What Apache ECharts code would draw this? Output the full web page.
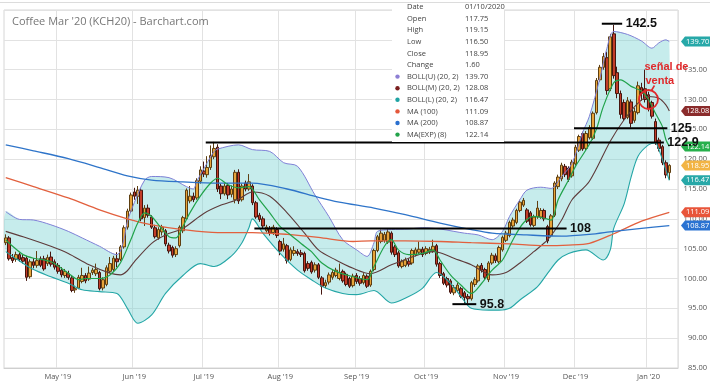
<!DOCTYPE html>
<html><head><meta charset="utf-8">
<script src="https://cdn.jsdelivr.net/npm/echarts@6/dist/echarts.min.js"></script>
<style>html,body{margin:0;padding:0;background:#fff}#c{width:710px;height:383px}</style>
</head><body><div id="c"></div>
<script>
// ---------- DATA ----------
const startDate = '2019-04-09';
const holidays = ['2019-04-19','2019-05-27','2019-07-04','2019-09-02','2019-11-28','2019-12-25','2020-01-01'];
const monthNames = ['Jan','Feb','Mar','Apr','May','Jun','Jul','Aug','Sep','Oct','Nov','Dec'];
const titleText = "Coffee Mar '20 (KCH20) - Barchart.com";
const priceMin = 85, priceMax = 145, priceStep = 5;

// [open, close, low, high] per trading day
const candles = [
[106.0,106.8,105.6,107.4],[106.8,103.3,103.0,107.1],[103.5,103.0,102.6,104.1],[103.2,104.0,102.8,104.5],[104.0,103.2,102.8,104.3],
[103.5,102.9,102.5,104.0],[103.4,100.2,99.6,103.8],[100.3,102.8,100.0,103.2],[102.8,102.2,101.7,103.4],[102.2,103.0,101.8,104.6],
[103.3,102.2,101.9,103.7],[103.3,101.6,101.3,103.8],[102.5,103.5,102.1,104.0],[103.6,102.4,102.0,104.5],[102.8,101.9,101.5,103.2],
[102.2,101.2,100.8,102.6],[101.4,100.6,100.2,101.9],[100.5,101.2,100.1,101.6],[100.8,100.2,99.8,101.3],[100.1,98.0,97.7,100.4],
[98.1,98.3,97.6,98.8],[98.4,100.2,98.2,100.6],[99.5,100.5,99.2,101.8],[100.5,99.6,99.2,100.9],[99.9,100.9,99.6,102.0],
[101.0,101.4,100.6,101.8],[100.8,101.5,100.4,102.5],[101.0,98.3,98.0,101.3],[98.4,99.8,98.0,100.2],[99.0,101.8,98.7,102.2],
[101.2,102.5,100.9,103.6],[101.5,103.4,101.2,103.8],[103.3,102.8,101.9,104.4],[103.2,105.3,102.9,105.6],[105.3,108.5,105.0,108.9],
[108.6,111.3,108.2,111.7],[111.3,114.0,111.0,114.4],[114.5,113.8,113.2,115.2],[113.8,114.8,112.5,115.5],[114.8,110.0,109.6,115.1],
[110.2,111.8,108.8,112.3],[111.8,110.6,110.2,112.4],[110.3,108.6,108.3,110.6],[108.5,107.0,106.7,109.0],[106.8,108.2,106.5,108.6],
[107.8,108.6,107.2,109.0],[108.0,105.8,105.4,108.3],[105.6,104.6,104.2,106.0],[105.2,103.9,103.5,105.5],[104.0,105.0,103.6,105.4],
[105.5,108.6,105.2,108.9],[108.0,110.2,107.6,110.5],[110.0,114.8,109.8,115.1],[113.0,113.8,112.6,115.5],[113.8,113.2,112.8,114.4],
[113.5,116.4,113.2,116.8],[116.3,118.2,115.9,118.8],[118.0,117.5,117.0,119.6],[117.4,118.6,116.9,120.5],[118.6,120.6,118.2,122.3],
[120.4,121.8,120.0,122.9],[122.0,115.0,114.5,122.5],[115.5,114.2,113.3,115.9],[114.2,115.5,113.9,116.0],[115.6,114.0,113.3,116.0],
[114.1,115.0,113.6,115.6],[113.2,117.8,112.6,118.2],[117.8,113.0,112.5,118.3],[113.2,115.5,112.9,115.9],[116.0,115.0,114.6,116.4],
[115.0,116.2,114.7,117.5],[115.5,112.7,112.3,115.8],[112.7,110.3,110.0,113.0],[110.6,109.9,109.5,111.0],[110.0,108.8,108.4,110.4],
[108.0,108.6,107.7,109.0],[108.4,107.6,107.2,108.8],[107.7,108.6,107.3,109.0],[108.2,107.2,106.8,108.6],[106.2,104.6,103.9,106.5],
[104.9,105.8,104.5,106.8],[105.5,103.0,102.5,105.8],[103.2,104.8,102.9,105.2],[104.2,104.7,103.8,105.4],[104.5,104.2,103.8,104.9],
[104.3,104.0,103.6,104.8],[104.2,101.3,101.0,104.5],[102.5,101.7,101.3,102.9],[102.7,101.1,100.8,103.0],[101.4,102.3,101.0,102.7],
[102.3,100.2,99.9,102.6],[100.1,98.7,97.3,100.4],[98.8,99.3,98.4,99.8],[99.4,100.6,99.0,101.0],[100.2,101.0,99.8,101.4],
[100.5,101.4,100.2,101.8],[100.0,101.0,99.7,102.5],[101.2,99.6,99.3,101.5],[100.7,99.0,98.7,101.0],[100.0,98.7,98.4,100.3],
[98.8,100.4,98.5,100.8],[100.5,99.5,99.1,100.9],[100.0,99.2,98.8,100.4],[99.3,100.5,99.0,100.9],[100.4,98.7,98.4,100.7],
[98.9,101.2,98.6,101.5],[101.5,104.7,101.2,105.0],[104.7,107.0,104.4,107.3],[106.2,107.6,105.9,108.2],[106.4,107.4,106.0,107.8],
[106.1,107.8,105.8,108.3],[107.6,104.4,104.0,107.9],[105.3,104.0,103.6,105.6],[104.3,102.1,101.8,104.6],[102.0,102.8,101.7,103.2],
[102.2,103.1,101.9,103.5],[102.9,102.4,102.0,103.3],[102.6,104.7,102.3,105.0],[104.0,104.8,103.7,105.2],[104.4,104.9,104.1,106.2],
[104.9,104.0,103.6,105.3],[104.2,105.0,103.9,105.4],[104.5,104.9,104.1,105.3],[104.6,105.4,104.3,106.5],[105.5,102.4,102.0,105.8],
[102.5,100.5,100.1,102.8],[100.8,99.2,98.9,101.1],[100.0,98.9,98.5,100.3],[99.6,97.7,97.4,99.9],[97.6,98.5,97.2,98.9],
[98.0,98.9,97.7,99.3],[98.3,97.0,96.7,98.6],[97.6,96.8,95.8,97.9],[97.0,96.6,95.8,97.4],[96.6,99.3,96.3,99.6],
[99.0,99.8,98.6,100.2],[99.6,102.1,99.3,102.4],[102.2,101.4,101.0,102.6],[101.5,100.2,99.8,101.8],[99.8,102.6,99.4,102.9],
[102.6,103.9,102.3,104.3],[103.8,103.0,102.6,104.2],[102.8,105.2,102.5,105.5],[104.8,106.9,104.5,107.2],[106.4,107.6,106.1,108.0],
[107.2,109.4,106.9,109.7],[108.8,109.8,108.5,110.2],[109.4,111.4,109.1,111.7],[111.4,112.8,111.1,113.2],[112.3,113.1,112.0,113.5],
[111.5,109.6,109.3,111.8],[111.0,109.0,108.7,111.3],[108.9,110.3,108.6,110.7],[110.3,111.8,110.0,113.0],[110.3,111.4,110.0,111.8],
[111.4,110.0,109.6,111.7],[108.7,106.3,105.9,109.0],[107.2,110.5,106.9,110.8],[110.6,116.0,110.3,116.3],[115.4,117.0,115.0,117.4],
[116.7,119.0,116.3,119.4],[118.8,117.4,117.0,119.2],[118.5,116.6,116.2,118.8],[117.2,119.5,116.9,119.9],[119.2,122.0,118.9,122.4],
[121.5,123.8,121.2,124.1],[124.3,121.7,121.4,124.6],[121.8,124.3,121.5,124.7],[123.6,125.3,123.3,125.7],[123.5,127.7,123.2,128.0],
[127.8,133.2,127.5,133.6],[133.3,135.4,133.0,135.8],[135.4,137.2,135.0,137.8],[137.0,131.5,130.8,138.0],[131.8,140.5,131.4,141.0],
[141.0,134.0,133.5,142.5],[134.5,131.0,130.2,135.5],[131.0,127.5,126.8,131.5],[129.5,126.8,126.4,130.0],[127.0,129.8,126.7,130.4],
[129.6,126.0,125.3,130.0],[126.5,128.0,126.1,128.6],[127.8,132.3,127.5,133.0],[132.0,131.0,129.8,132.8],[131.8,130.0,129.5,135.0],
[130.8,128.5,128.0,131.3],[129.5,127.2,126.8,129.8],[126.3,122.8,122.4,126.8],[123.2,121.8,121.3,123.6],[122.1,119.4,119.0,122.4],
[119.4,117.35,116.8,119.8],[117.75,118.95,116.5,119.15]
];

// indicator lines: [trading-day index, value]
const bollUpper = [[0,111.2],[4,109.9],[8,109.8],[13,109.0],[18,107.9],[22,106.8],[27,105.4],[32,104.0],[33,104.6],[34,106.5],[35,109.5],[37,112.7],[40,116.5],[42,117.1],[47,116.9],[52,115.4],[54,115.0],[55,116.3],[58,119.4],[60,121.3],[61,121.7],[67,122.4],[71,121.6],[76,121.3],[80,119.4],[84,118.8],[89,114.0],[93,110.4],[97,106.5],[101,104.8],[104,103.7],[106,106.0],[107,107.9],[111,108.2],[116,108.3],[120,108.5],[125,108.3],[129,107.9],[132,107.6],[136,107.3],[140,106.5],[143,107.9],[145,110.4],[148,113.2],[150,114.8],[154,115.3],[157,115.1],[160,117.1],[163,119.3],[166,124.4],[168,127.2],[171,133.5],[173,138.5],[175,141.4],[179,140.9],[183,139.8],[186,138.6],[188,139.5],[190,140.0],[191,139.70]];
const bollMiddle = [[0,107.9],[5,107.0],[13,105.4],[18,104.2],[24,102.3],[30,100.9],[33,100.6],[35,101.3],[37,102.8],[42,105.9],[46,107.3],[51,108.4],[57,110.9],[62,112.3],[67,113.3],[71,114.5],[76,113.8],[81,111.0],[86,107.6],[90,104.8],[95,103.1],[100,101.7],[105,100.8],[111,102.3],[116,103.4],[120,104.2],[123,104.5],[125,104.3],[129,103.4],[134,102.3],[140,100.6],[144,101.0],[148,102.6],[152,104.5],[156,106.5],[160,109.8],[163,113.2],[168,116.3],[174,123.0],[178,126.6],[182,129.4],[185,130.5],[188,130.2],[190,129.1],[191,128.08]];
const bollLower = [[0,104.5],[3,103.3],[8,101.5],[13,100.3],[18,99.2],[22,98.1],[27,97.8],[32,97.5],[35,95.0],[38,92.5],[42,93.9],[46,97.5],[51,100.5],[56,102.5],[60,102.0],[65,103.8],[68,106.0],[70,108.5],[71,110.0],[74,107.6],[79,104.2],[84,101.4],[88,99.8],[92,98.4],[97,97.5],[101,97.3],[106,98.0],[111,95.9],[116,97.0],[120,98.4],[124,101.0],[128,99.2],[131,97.0],[134,95.0],[139,94.7],[142,94.7],[145,95.0],[148,96.4],[153,98.6],[156,100.9],[159,103.1],[162,104.2],[167,104.8],[172,103.1],[174,104.8],[175,108.4],[178,112.5],[180,117.0],[182,120.5],[185,122.4],[187,122.7],[188,121.6],[190,118.2],[191,116.47]];
const ma100 = [[0,116.9],[8,115.4],[18,113.5],[27,111.5],[35,110.0],[42,109.0],[51,108.2],[61,107.7],[71,107.7],[81,107.4],[90,106.9],[100,106.2],[105,106.3],[115,106.3],[125,106.2],[134,106.0],[145,105.8],[155,105.5],[162,105.6],[168,105.9],[175,107.5],[183,109.6],[191,111.09]];
const ma200 = [[0,122.4],[8,121.4],[18,120.1],[27,118.6],[35,117.2],[42,116.5],[51,116.2],[61,116.0],[71,116.0],[81,115.0],[90,113.6],[96,112.8],[106,111.8],[115,110.7],[125,109.3],[134,108.2],[140,107.6],[150,107.3],[160,107.1],[168,107.4],[175,107.9],[183,108.4],[191,108.87]];
const emaLine = [[0,106.5],[2,105.4],[5,104.0],[8,103.4],[13,102.8],[18,100.9],[21,99.8],[23,100.0],[27,100.0],[30,100.6],[33,102.6],[36,106.5],[38,109.3],[40,111.0],[42,110.4],[44,109.0],[47,107.0],[49,106.8],[51,108.7],[53,111.0],[56,113.8],[59,116.0],[61,116.8],[64,115.7],[67,115.2],[70,115.4],[73,113.2],[76,111.0],[79,108.7],[82,107.3],[86,105.4],[88,104.5],[91,102.6],[95,101.2],[100,100.3],[104,99.8],[106,102.0],[109,105.4],[111,106.5],[113,104.8],[116,104.0],[120,104.2],[123,104.8],[125,103.1],[128,100.6],[131,98.9],[134,97.5],[137,99.2],[140,101.4],[143,103.1],[146,106.5],[149,109.3],[152,110.4],[155,110.1],[157,109.8],[159,113.2],[162,116.5],[164,118.8],[168,122.5],[170,125.0],[172,128.8],[175,132.8],[177,133.3],[180,132.2],[183,131.4],[185,130.0],[187,127.7],[189,125.5],[190,123.3],[191,122.14]];

// hand-drawn annotation levels
const annoLabels = ['142.5','125','122.9','108','95.8'];
const annoLevels = [142.7,125.2,122.8,108.4,95.7];
const annoStart  = [172,164,58,72,129];
const annoEnd    = [177,190,189,161,135];
const signalText = ['señal de','venta'];
const signalPoint = [185,130];

// ---------- BUILD ----------
function tradingDays(start, n, hol){
  const out=[]; const d=new Date(start+'T00:00:00Z');
  while(out.length<n){
    const wd=d.getUTCDay(); const s=d.toISOString().slice(0,10);
    if(wd!==0&&wd!==6&&hol.indexOf(s)<0) out.push(s);
    d.setUTCDate(d.getUTCDate()+1);
  }
  return out;
}
const categories = tradingDays(startDate, candles.length+2, holidays);
const isMonthStart = (idx)=> idx>0 && categories[idx].slice(5,7)!==categories[idx-1].slice(5,7);
const monthLabel = (v)=> monthNames[+v.slice(5,7)-1]+" '"+v.slice(2,4);

const lastV = a => a[a.length-1][1];
const last = candles[candles.length-1], prev = candles[candles.length-2];
const ld = categories[candles.length-1];
const dateTxt = ld.slice(5,7)+'/'+ld.slice(8,10)+'/'+ld.slice(0,4);

const C = {up:'#7f80d6', mid:'#5e3b3b', low:'#24a6a6', ma100:'#e2603e', ma200:'#2e74c9', ema:'#21a34b'};
const infoRows = [
  ['Date', dateTxt, null],
  ['Open', last[0].toFixed(2), null],
  ['High', last[3].toFixed(2), null],
  ['Low', last[2].toFixed(2), null],
  ['Close', last[1].toFixed(2), null],
  ['Change', (last[1]-prev[1]).toFixed(2), null],
  ['BOLL(U) (20, 2)', lastV(bollUpper).toFixed(2), '#8d7fd4'],
  ['BOLL(M) (20, 2)', lastV(bollMiddle).toFixed(2), '#7a1f1f'],
  ['BOLL(L) (20, 2)', lastV(bollLower).toFixed(2), '#1fa3a3'],
  ['MA (100)', lastV(ma100).toFixed(2), '#e4573a'],
  ['MA (200)', lastV(ma200).toFixed(2), '#2a70cf'],
  ['MA(EXP) (8)', lastV(emaLine).toFixed(2), '#23a34b']
];
const UIFONT = '"Open Sans", "Noto Sans", sans-serif';
const graphics = [
  {type:'line', shape:{x1:0,y1:2.5,x2:710,y2:2.5}, style:{stroke:'#dcdcdc',lineWidth:1}, z:40},
  {type:'text', x:12, y:22, style:{text:titleText, fill:'#777', font:'11px '+UIFONT, verticalAlign:'middle'}, z:60},
  {type:'rect', shape:{x:392,y:3,width:112,height:139}, style:{fill:'#fff'}, z:50}
];
infoRows.forEach((r,k)=>{
  const y = 7 + k*11.6;
  graphics.push({type:'text', x:407, y:y, style:{text:r[0], fill:'#444', font:'7.5px '+UIFONT, verticalAlign:'middle'}, z:51});
  graphics.push({type:'text', x:465, y:y, style:{text:r[1], fill:'#444', font:'7.5px '+UIFONT, verticalAlign:'middle'}, z:51});
  if(r[2]) graphics.push({type:'circle', shape:{cx:397.5, cy:y, r:2.2}, style:{fill:r[2]}, z:51});
});

const tagValues = [lastV(bollUpper), lastV(bollMiddle), lastV(emaLine), last[1], lastV(bollLower), lastV(ma100), lastV(ma200)];
const tagColors = ['#27a8a8','#8b2c2c','#27b04c','#f2b445','#27a8a8','#e8553a','#2a73d2'];

const lineSeries = (data, color, width, z) => ({type:'line', data, showSymbol:false, smooth:0.3, silent:true, z:z||4,
  lineStyle:{color, width}});

const option = {
  animation:false,
  graphic: graphics,
  grid:{left:4, right:32, top:10, bottom:15, show:true, borderColor:'#d6d6d6', borderWidth:1},
  xAxis:{type:'category', data:categories, boundaryGap:true,
    axisLine:{lineStyle:{color:'#cfcfcf'}}, axisTick:{show:false},
    axisLabel:{interval:isMonthStart, formatter:monthLabel, fontSize:7.5, color:'#555', margin:5, fontFamily:'Open Sans'},
    splitLine:{show:true, interval:isMonthStart, lineStyle:{color:'#e2e2e2', width:1}}},
  yAxis:{type:'value', position:'right', min:priceMin, max:priceMax, interval:priceStep, scale:false,
    axisLine:{show:false}, axisTick:{show:false},
    axisLabel:{formatter:v=>v.toFixed(2), fontSize:7.5, color:'#555', align:'right', margin:29, showMaxLabel:false, fontFamily:'Open Sans'},
    splitLine:{lineStyle:{color:'#e2e2e2', width:1}}},
  series:[
    {type:'custom', name:'band', silent:true, z:1, data:[[0,100]], encode:{x:0,y:1}, clip:true,
      renderItem:(params, api)=>{
        const pts = bollUpper.map(p=>api.coord(p)).concat(bollLower.slice().reverse().map(p=>api.coord(p)));
        return {type:'polygon', shape:{points:pts, smooth:0.3}, style:{fill:'rgba(120,210,210,0.42)'}};
      }},
    {type:'candlestick', data:candles, barWidth:'88%', silent:true, z:3,
      itemStyle:{color:'#e8a43a', color0:'#c23c28', borderColor:'#5e3f12', borderColor0:'#45160f', borderWidth:1}},
    lineSeries(bollUpper, C.up, 1),
    lineSeries(bollMiddle, C.mid, 1.1),
    lineSeries(bollLower, C.low, 1.1),
    lineSeries(ma100, C.ma100, 1.3),
    lineSeries(ma200, C.ma200, 1.3),
    lineSeries(emaLine, C.ema, 1.2),
    {type:'custom', name:'tags', silent:true, z:8, clip:false, data:tagValues.map((v,i)=>[0,v,i]), encode:{x:0,y:1},
      renderItem:(params, api)=>{
        const v = api.value(1), i = api.value(2);
        const y = api.coord([0, v])[1];
        const x0 = params.coordSys.x + params.coordSys.width + 3;
        return {type:'group', children:[
          {type:'polygon', shape:{points:[[x0,y],[x0+4,y-5],[x0+31,y-5],[x0+31,y+5],[x0+4,y+5]]}, style:{fill:tagColors[i]}},
          {type:'text', x:x0+5, y:y, style:{text:v.toFixed(2), fill:'#fff', font:'7.5px '+UIFONT, verticalAlign:'middle', align:'left'}}
        ]};
      }},
    {type:'custom', name:'levels', silent:true, z:10, clip:false,
      data:annoLevels.map((lv,i)=>[annoStart[i], lv, annoEnd[i], i]), encode:{x:0,y:1},
      renderItem:(params, api)=>{
        const a = api.coord([api.value(0), api.value(1)]);
        const b = api.coord([api.value(2), api.value(1)]);
        const i = api.value(3);
        return {type:'group', children:[
          {type:'line', shape:{x1:a[0]-1.5,y1:a[1],x2:b[0]+1.5,y2:b[1]}, style:{stroke:'#000', lineWidth:2}},
          {type:'text', x:b[0]+5, y:a[1], style:{text:annoLabels[i], fill:'#111', font:'bold 12.5px "Liberation Sans Narrow", "Liberation Sans", sans-serif', verticalAlign:'middle', align:'left'}}
        ]};
      }},
    {type:'custom', name:'signal', silent:true, z:11, clip:false, data:[signalPoint], encode:{x:0,y:1},
      renderItem:(params, api)=>{
        const c = api.coord([api.value(0), api.value(1)]);
        return {type:'group', children:[
          {type:'circle', shape:{cx:c[0], cy:c[1], r:9.5}, style:{stroke:'#e0282a', lineWidth:1.8, fill:'none'}},
          {type:'line', shape:{x1:c[0]+6, y1:c[1]-14, x2:c[0]+3, y2:c[1]-9}, style:{stroke:'#e0282a', lineWidth:1.5}},
          {type:'text', x:c[0]-4, y:c[1]-33, style:{text:signalText[0], fill:'#e0282a', font:'bold 11px "Liberation Sans", sans-serif', verticalAlign:'middle', align:'left'}},
          {type:'text', x:c[0]-3, y:c[1]-19, style:{text:signalText[1], fill:'#e0282a', font:'bold 11px "Liberation Sans", sans-serif', verticalAlign:'middle', align:'left'}}
        ]};
      }}
  ]
};
const chart = echarts.init(document.getElementById('c'), null, {width:710, height:383});
chart.setOption(option);
</script></body></html>
